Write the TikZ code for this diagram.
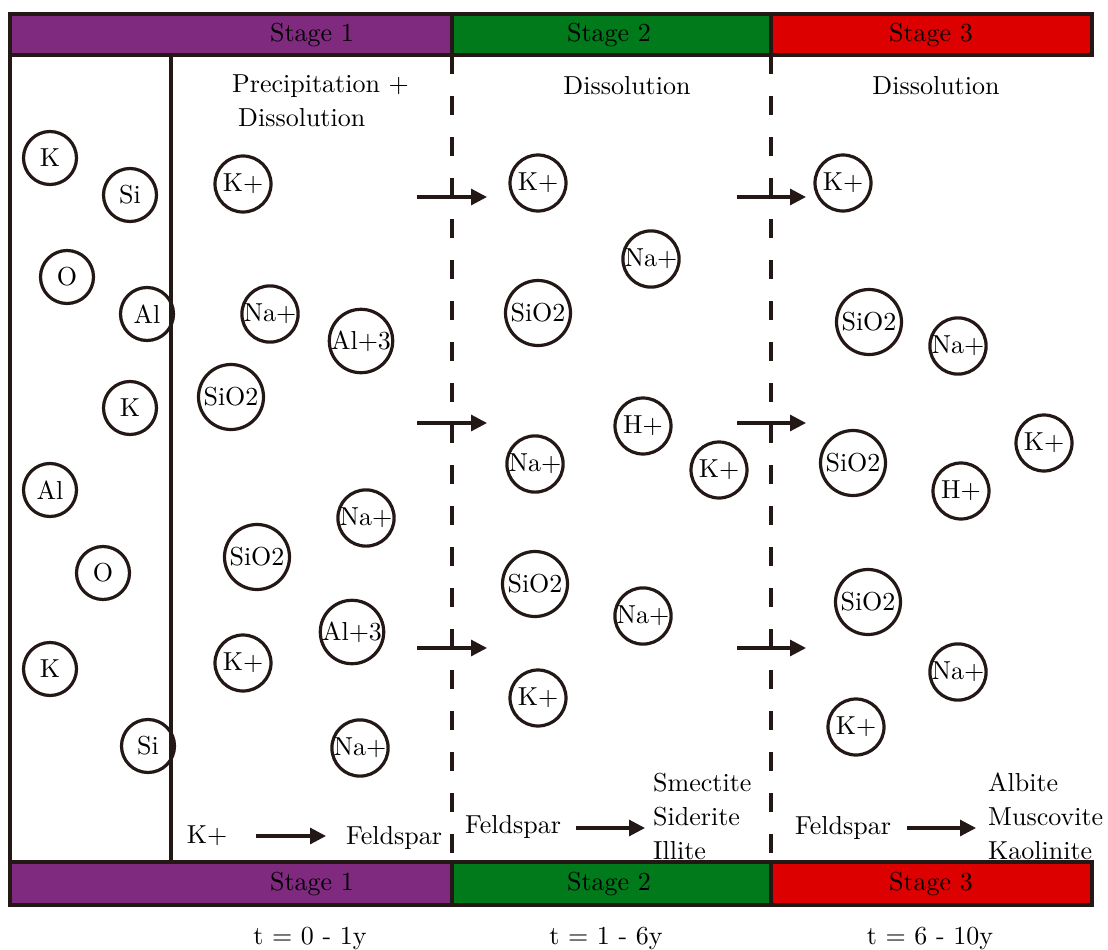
\documentclass[tikz,border=0pt]{standalone}
\usepackage{fontspec}
\setmainfont{lmroman10-regular.otf}
\usetikzlibrary{arrows.meta}
\definecolor{ink}{HTML}{231815}
\definecolor{stpurple}{HTML}{7F2A7F}
\definecolor{stgreen}{HTML}{007A1A}
\definecolor{stred}{HTML}{DD0000}
\begin{document}
\begin{tikzpicture}[x=1pt,y=-1pt,
  font=\fontsize{26}{34}\selectfont,
  ion/.style={circle, draw=ink, line width=3.2pt, minimum size=56pt, inner sep=0pt, text=black},
  bigion/.style={ion, minimum size=65pt},
  elem/.style={ion, minimum size=53pt},
  flow/.style={-{Triangle[length=16pt,width=16pt]}, line width=3.1pt, draw=ink},
  lbl/.style={inner sep=0pt, text=black},
  barline/.style={draw=ink, line width=3.4pt},
  divider/.style={draw=ink, line width=3.1pt, dash pattern=on 19pt off 22pt}]
\useasboundingbox (0,0) rectangle (1108,950);

% ---- frame lines
\draw[barline] (10,55) -- (10,862);
\draw[barline] (171,55) -- (171,862);
\draw[divider] (452,55) -- (452,862);
\draw[divider] (771,55) -- (771,862);

% ---- top bar
\filldraw[barline, fill=stpurple] (10,14) rectangle (452,55);
\filldraw[barline, fill=stgreen] (452,14) rectangle (771,55);
\filldraw[barline, fill=stred] (771,14) rectangle (1092,55);
\node[lbl] (t1) at (312,35) {Stage 1};
\node[lbl] (t2) at (609,35) {Stage 2};
\node[lbl] (t3) at (931,35) {Stage 3};

% ---- bottom bar
\filldraw[barline, fill=stpurple] (10,862) rectangle (452,905);
\filldraw[barline, fill=stgreen] (452,862) rectangle (771,905);
\filldraw[barline, fill=stred] (771,862) rectangle (1092,905);
\node[lbl] (b1) at (312,884) {Stage 1};
\node[lbl] (b2) at (609,884) {Stage 2};
\node[lbl] (b3) at (931,884) {Stage 3};

% ---- time labels
\node[lbl] (time1) at (310,938) {t = 0 - 1y};
\node[lbl] (time2) at (606,938) {t = 1 - 6y};
\node[lbl] (time3) at (930,938) {t = 6 - 10y};

% ---- process titles
\node[lbl, anchor=west] (h1a) at (232,86) {Precipitation +};
\node[lbl, anchor=west] (h1b) at (238,118) {Dissolution};
\node[lbl] (h2) at (627,86) {Dissolution};
\node[lbl] (h3) at (936,86) {Dissolution};

% ---- feldspar column (elements)
\node[elem] (e1) at (50,158) {K};
\node[elem] (e2) at (130,195) {Si};
\node[elem] (e3) at (67,277) {O};
\node[elem] (e4) at (147,314) {Al};
\node[elem] (e5) at (130,408) {K};
\node[elem] (e6) at (50,490) {Al};
\node[elem] (e7) at (103,573) {O};
\node[elem] (e8) at (50,669) {K};
\node[elem] (e9) at (148,746) {Si};

% ---- stage 1 ions
\node[ion] (a1) at (243,184) {K+};
\node[ion] (a2) at (270,314) {Na+};
\node[ion] (a3) at (361,341) {Al+3};
\node[bigion] (a4) at (231,397) {SiO2};
\node[ion] (a5) at (366,518) {Na+};
\node[bigion] (a6) at (257,557) {SiO2};
\node[ion] (a7) at (352,632) {Al+3};
\node[ion] (a8) at (243,663) {K+};
\node[ion] (a9) at (360,748) {Na+};

% ---- stage 2 ions
\node[ion] (c1) at (538,183) {K+};
\node[ion] (c2) at (651,259) {Na+};
\node[bigion] (c3) at (538,313) {SiO2};
\node[ion] (c4) at (643,426) {H+};
\node[ion] (c5) at (535,464) {Na+};
\node[ion] (c6) at (719,470) {K+};
\node[bigion] (c7) at (535,584) {SiO2};
\node[ion] (c8) at (643,616) {Na+};
\node[ion] (c9) at (538,698) {K+};

% ---- stage 3 ions
\node[ion] (d1) at (843,183) {K+};
\node[bigion] (d2) at (869,322) {SiO2};
\node[ion] (d3) at (958,346) {Na+};
\node[ion] (d4) at (1044,443) {K+};
\node[bigion] (d5) at (853,463) {SiO2};
\node[ion] (d6) at (961,491) {H+};
\node[bigion] (d7) at (868,602) {SiO2};
\node[ion] (d8) at (958,672) {Na+};
\node[ion] (d9) at (856,727) {K+};

% ---- migration arrows
\coordinate (m1s) at (417,197); \coordinate (m1e) at (487,197);
\coordinate (m2s) at (417,423); \coordinate (m2e) at (487,423);
\coordinate (m3s) at (417,648); \coordinate (m3e) at (487,648);
\coordinate (n1s) at (737,197); \coordinate (n1e) at (806,197);
\coordinate (n2s) at (737,423); \coordinate (n2e) at (806,423);
\coordinate (n3s) at (737,648); \coordinate (n3e) at (806,648);
\foreach \p in {m1,m2,m3,n1,n2,n3} \draw[flow] (\p s) -- (\p e);

% ---- reactions
\node[lbl] (r1a) at (207,836) {K+};
\node[lbl] (r1b) at (394,838) {Feldspar};
\coordinate (r1s) at (256,836); \coordinate (r1e) at (326,836);
\draw[flow] (r1s) -- (r1e);

\node[lbl] (r2a) at (513,827) {Feldspar};
\node[lbl, anchor=west, align=left] (r2b) at (653,816) {Smectite\\Siderite\\Illite};
\coordinate (r2s) at (576,828); \coordinate (r2e) at (645,828);
\draw[flow] (r2s) -- (r2e);

\node[lbl] (r3a) at (843,828) {Feldspar};
\node[lbl, anchor=west, align=left] (r3b) at (988,816) {Albite\\Muscovite\\Kaolinite};
\coordinate (r3s) at (907,828); \coordinate (r3e) at (976,828);
\draw[flow] (r3s) -- (r3e);
\end{tikzpicture}
\end{document}
